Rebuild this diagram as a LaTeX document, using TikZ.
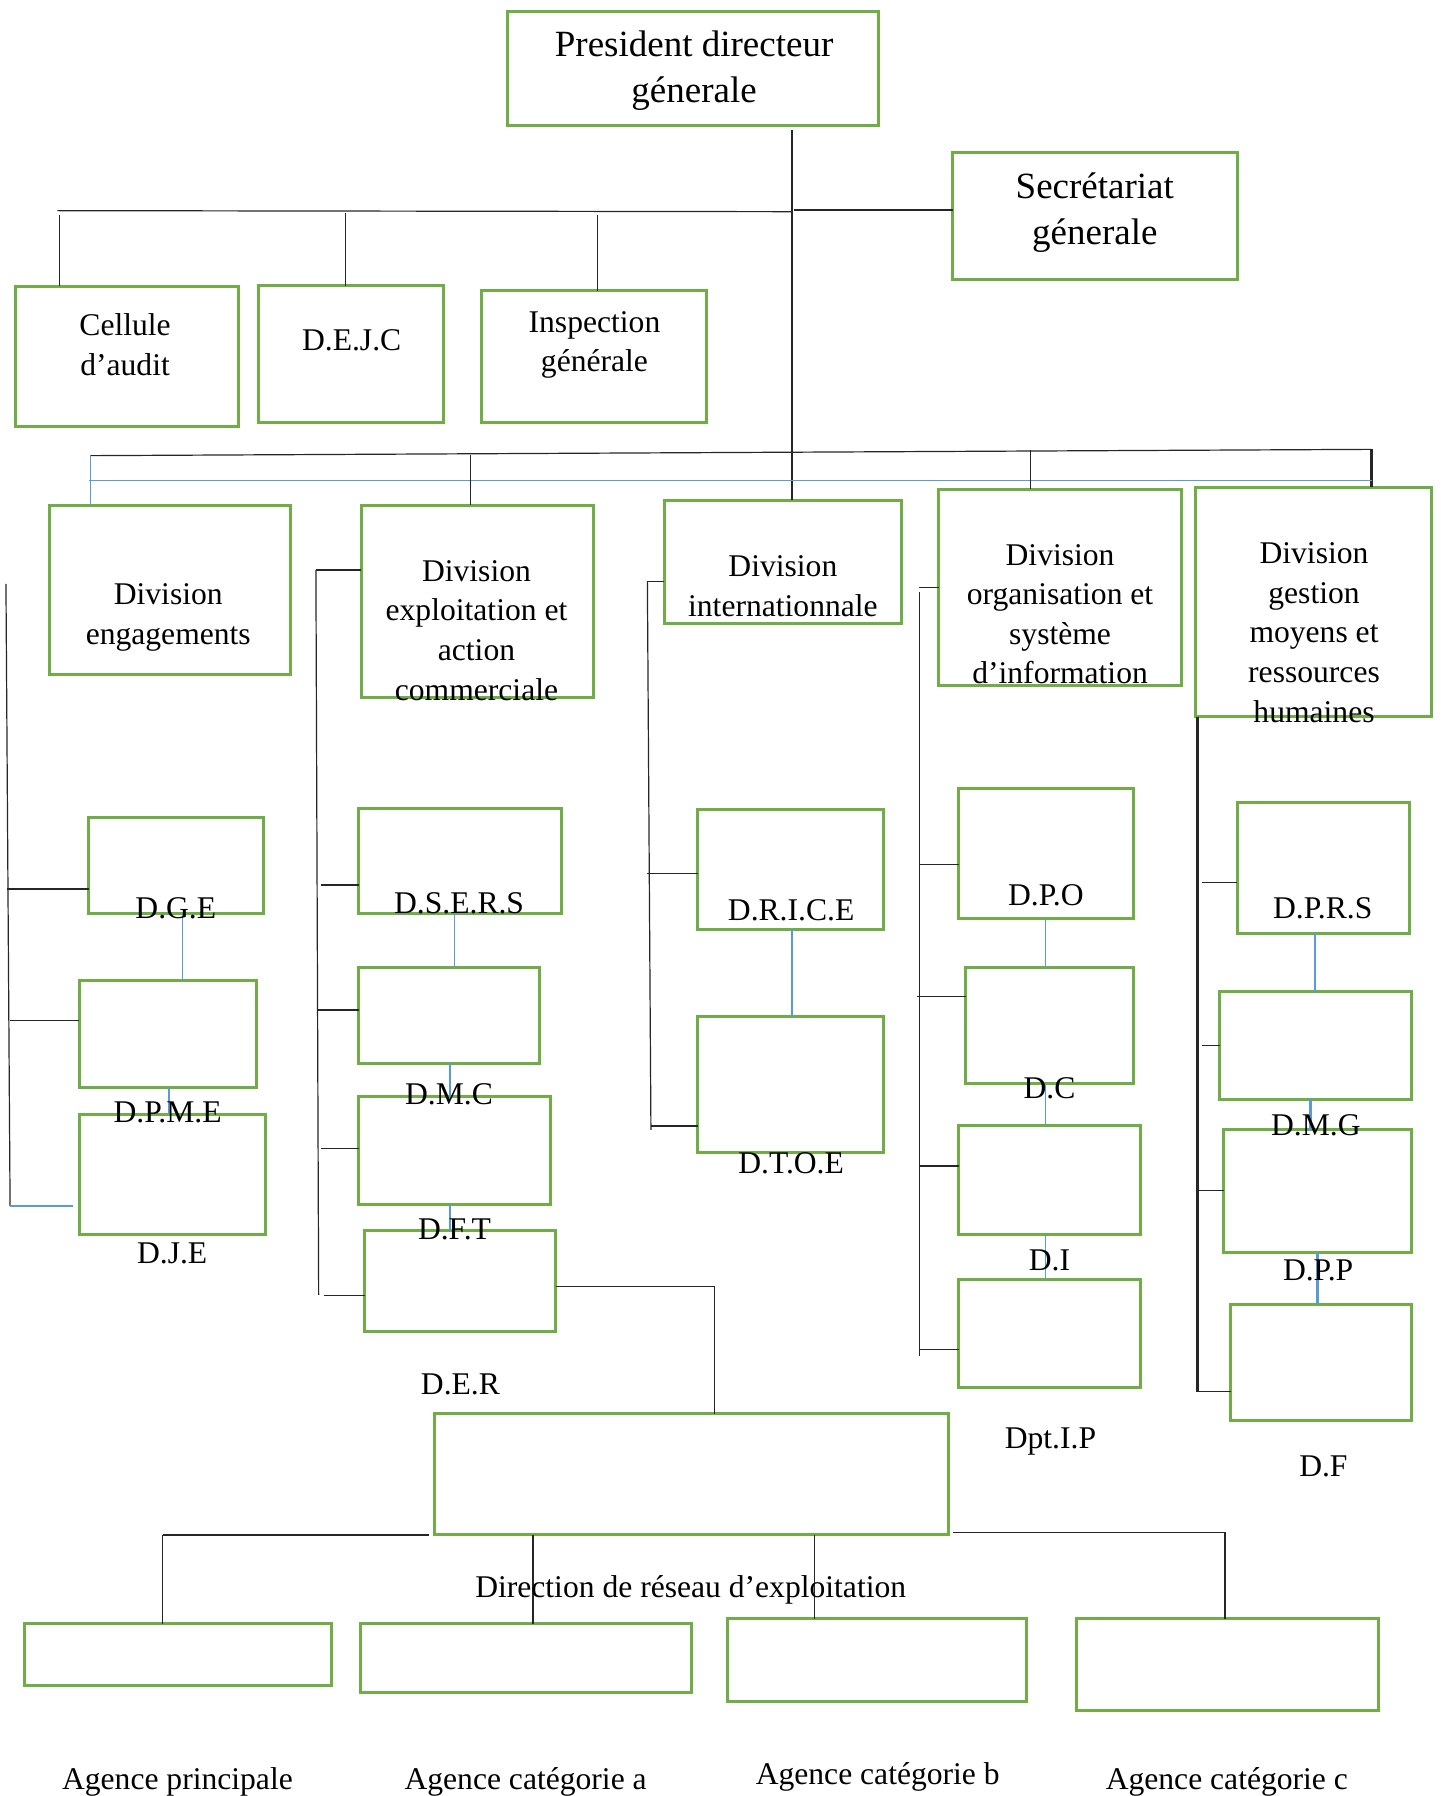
\documentclass[tikz,border=0pt]{standalone}
\usepackage{fontspec}
\setmainfont{Liberation Serif}
\definecolor{bxgreen}{RGB}{112,173,71}
\definecolor{lnblue}{RGB}{91,155,213}
\tikzset{
 gbox/.style={draw=bxgreen, line width=1.5pt, inner sep=0pt, outer sep=0pt, rectangle},
 conn/.style={draw=black!85, line width=0.6pt},
 bconn/.style={draw=lnblue, line width=0.6pt},
 bthick/.style={draw=lnblue, line width=1.3pt},
 lbl/.style={font=\fontsize{15.8pt}{19.8pt}\selectfont, inner sep=0pt, align=center},
 ttl/.style={font=\fontsize{18.5pt}{22.9pt}\selectfont, inner sep=0pt, align=center, yshift=-2pt},
 low/.style={yshift=-1.8pt},
}
\newcommand\mkbox[5]{\node[gbox, minimum width={(#4-#2)*0.5727pt}, minimum height={(#5-#3)*0.5727pt}] (#1) at ({(#2+#4)/2},{(#3+#5)/2}) {};}
\begin{document}
\begin{tikzpicture}[x=0.5727pt,y=-0.5727pt]
\useasboundingbox (0,0) rectangle (1258,1568);
% boxes
\mkbox{pdg}{443.5}{10.2}{767.2}{109.7}
\mkbox{sec}{831.8}{133}{1080.7}{243.8}
\mkbox{audit}{13.2}{249.7}{208}{372.2}
\mkbox{dejc}{225.7}{249.4}{387.2}{368.7}
\mkbox{insp}{420}{253.7}{617.2}{368.7}
\mkbox{deng}{42.9}{440.9}{253.3}{589.3}
\mkbox{dexp}{315.4}{440.9}{518.3}{608.8}
\mkbox{dint}{580}{436.8}{786.9}{544.2}
\mkbox{dorg}{819.7}{427.2}{1031.8}{598.9}
\mkbox{dges}{1043.8}{425.4}{1249.8}{625.6}
\mkbox{dge}{77.4}{713.8}{229.7}{797.3}
\mkbox{dpme}{69.3}{856.1}{223.7}{949.5}
\mkbox{dje}{69.3}{972.8}{231.7}{1078.1}
\mkbox{dsers}{313.4}{706}{490.2}{797.3}
\mkbox{dmc}{313.4}{844.8}{470.9}{928.3}
\mkbox{dft}{313.4}{957.4}{481}{1051.4}
\mkbox{der}{318.6}{1074.6}{485}{1162.5}
\mkbox{drice}{609.2}{706.3}{771.6}{811.3}
\mkbox{dtoe}{609.2}{887.5}{771.6}{1006}
\mkbox{dpo}{837}{688.8}{989.7}{801.7}
\mkbox{dc}{843}{844.8}{989.7}{946.3}
\mkbox{di}{837}{983}{995.3}{1078.1}
\mkbox{dptip}{837}{1117.4}{995.3}{1211.1}
\mkbox{dprs}{1080.3}{700.4}{1230.6}{814.8}
\mkbox{dmg}{1064.7}{865.7}{1232.6}{959.7}
\mkbox{dpp}{1068.3}{986.5}{1232.6}{1093.6}
\mkbox{df}{1074.6}{1138.6}{1232.6}{1240.2}
\mkbox{dir}{379.5}{1234.4}{828}{1339.7}
\mkbox{ap}{21.7}{1417.4}{289.7}{1471.8}
\mkbox{aa}{314.5}{1417.7}{603.4}{1478}
\mkbox{ab}{635.5}{1413.4}{896.3}{1485.8}
\mkbox{ac}{939.6}{1413.4}{1203.5}{1493.7}
% top connectors
\coordinate (t0) at (691.4,113.5);
\draw[conn] (t0) -- (t0 |- dint.north);
\coordinate (b1) at (50.1,183.9);
\coordinate (b1r) at (691.4,184.8);
\draw[conn] (b1) -- (b1r);
\coordinate (s1) at (693,183.3);
\draw[conn] (s1) -- (s1 -| sec.west);
\coordinate (k1) at (52.1,187.7);
\draw[conn] (k1) -- (k1 |- audit.north);
\coordinate (k2) at (301.4,185.6);
\draw[conn] (k2) -- (k2 |- dejc.north);
\coordinate (k3) at (521.4,187.7);
\draw[conn] (k3) -- (k3 |- insp.north);
% division bus
\coordinate (v0) at (79,397.8);
\coordinate (v1) at (1197.7,392.3);
\draw[conn] (v0) -- (v1);
\draw[conn, line width=1.4pt] (v1) -- (v1 |- dges.north);
\coordinate (w0) at (78,419.6);
\draw[bconn] (w0) -- (w0 -| v1);
\draw[bconn] (v0) -- (v0 |- deng.north);
\coordinate (v3) at (410.8,397);
\draw[conn] (v3) -- (v3 |- dexp.north);
\coordinate (v4) at (899.9,393);
\draw[conn] (v4) -- (v4 |- dorg.north);
% column 1
\coordinate (c1a) at (5.2,509.8);
\coordinate (c1b) at (8.8,1052.8);
\coordinate (c1c) at (63.3,1052.8);
\draw[conn] (c1a) -- (c1b);
\draw[bconn] (c1b) -- (c1c);
\coordinate (h1) at (6,776.1);
\draw[conn] (h1) -- (h1 -| dge.west);
\coordinate (h2) at (8.8,891);
\draw[conn] (h2) -- (h2 -| dpme.west);
\coordinate (x1) at (159.1,0);
\draw[bconn] (dge.south -| x1) -- (dpme.north -| x1);
\coordinate (x2) at (147.5,0);
\draw[bconn] (dpme.south -| x2) -- (dje.north -| x2);
% column 2
\coordinate (c2a) at (275.8,497.6);
\coordinate (c2b) at (278.2,1130.5);
\draw[conn] (c2a) -- (c2b);
\draw[conn] (c2a) -- (c2a -| dexp.west);
\coordinate (h3) at (280.6,772.6);
\draw[conn] (h3) -- (h3 -| dsers.west);
\coordinate (h4) at (277.4,881.7);
\draw[conn] (h4) -- (h4 -| dmc.west);
\coordinate (h5) at (280.6,1002.5);
\draw[conn] (h5) -- (h5 -| dft.west);
\coordinate (h6) at (282.6,1131.1);
\draw[conn] (h6) -- (h6 -| der.west);
\coordinate (x3) at (396.8,0);
\draw[bconn] (dsers.south -| x3) -- (dmc.north -| x3);
\coordinate (x4) at (392.8,0);
\draw[bconn] (dmc.south -| x4) -- (dft.north -| x4);
\draw[bconn] (dft.south -| x4) -- (der.north -| x4);
\coordinate (r1) at (624.1,1123.2);
\draw[conn] (r1 -| der.east) -- (r1) -- (r1 |- dir.north);
% column 3
\coordinate (c3a) at (565.2,507.8);
\coordinate (c3b) at (568.3,986.5);
\draw[conn] (c3a) -- (c3b);
\draw[conn] (c3a) -- (c3a -| dint.west);
\coordinate (h7) at (565.2,762.4);
\draw[conn] (h7) -- (h7 -| drice.west);
\coordinate (h8) at (568.3,983);
\draw[conn] (h8) -- (h8 -| dtoe.west);
\coordinate (x5) at (691.5,0);
\draw[bconn] (drice.south -| x5) -- (dtoe.north -| x5);
% column 4
\coordinate (c4a) at (802.5,516.5);
\coordinate (c4b) at (802.5,1183.5);
\draw[conn] (c4a) -- (c4b);
\coordinate (c4s) at (802.5,512.7);
\draw[conn] (c4s) -- (c4s -| dorg.west);
\coordinate (h9) at (802.5,754.5);
\draw[conn] (h9) -- (h9 -| dpo.west);
\coordinate (h10) at (800.9,870.1);
\draw[conn] (h10) -- (h10 -| dc.west);
\coordinate (h11) at (802.5,1017.9);
\draw[conn] (h11) -- (h11 -| di.west);
\coordinate (h12) at (802.5,1177.9);
\draw[conn] (h12) -- (h12 -| dptip.west);
\coordinate (x6) at (913.1,0);
\draw[bconn] (dpo.south -| x6) -- (dc.north -| x6);
\draw[bconn] (dc.south -| x6) -- (di.north -| x6);
\draw[bconn] (di.south -| x6) -- (dptip.north -| x6);
% column 5
\coordinate (c5b) at (1045.4,1214.9);
\draw[conn, line width=1.6pt] (dges.south -| c5b) -- (c5b);
\draw[conn] (c5b) -- (c5b -| df.west);
\coordinate (h13) at (1049.3,770.5);
\draw[conn] (h13) -- (h13 -| dprs.west);
\coordinate (h14) at (1049.3,912.8);
\draw[conn] (h14) -- (h14 -| dmg.west);
\coordinate (h15) at (1045.4,1039.4);
\draw[conn] (h15) -- (h15 -| dpp.west);
\coordinate (x7) at (1148,0);
\draw[bthick] (dprs.south -| x7) -- (dmg.north -| x7);
\coordinate (x8) at (1144,0);
\draw[bthick] (dmg.south -| x8) -- (dpp.north -| x8);
\coordinate (x9) at (1150,0);
\draw[bthick] (dpp.south -| x9) -- (df.north -| x9);
% bottom
\coordinate (q1) at (374.7,1340);
\coordinate (q2) at (142,1340);
\draw[conn, line width=1.1pt] (q1) -- (q2);
\draw[conn] (q2) -- (q2 |- ap.north);
\coordinate (q3) at (832,1337.7);
\coordinate (q4) at (1069.5,1337.7);
\draw[conn] (q3) -- (q4) -- (q4 |- ac.north);
\coordinate (x10) at (465.3,0);
\draw[conn] (dir.south -| x10) -- (aa.north -| x10);
\coordinate (x11) at (710.9,0);
\draw[conn] (dir.south -| x11) -- (ab.north -| x11);
% texts
\node[ttl] (tpdg) at (606,58) {President directeur\\génerale};
\node[ttl] (tsec) at (955.8,182) {Secrétariat\\génerale};
\node[lbl] (taudit) at (109.2,301) {Cellule\\d’audit};
\node[lbl] (tdejc) at (307,297.4) {D.E.J.C};
\node[lbl] (tinsp) at (519,301) {Inspection\\générale};
\node[lbl,low] (tdeng) at (146.9,535.7) {Division\\engagements};
\node[lbl] (tdexp) at (416,550.3) {Division\\exploitation et\\action\\commerciale};
\node[lbl] (tdint) at (683.5,511.9) {Division\\internationnale};
\node[lbl] (tdorg) at (925.5,536.2) {Division\\organisation et\\système\\d’information};
\node[lbl] (tdges) at (1147.2,552.2) {Division\\gestion\\moyens et\\ressources\\humaines};
\node[lbl] (tdge) at (153.5,793) {D.G.E};
\node[lbl] (tdpme) at (146.3,971.3) {D.P.M.E};
\node[lbl] (tdje) at (150.3,1094.1) {D.J.E};
\node[lbl] (tdsers) at (400.8,788.6) {D.S.E.R.S};
\node[lbl] (tdmc) at (392,955) {D.M.C};
\node[lbl] (tdft) at (396.8,1072.9) {D.F.T};
\node[lbl] (tder) at (402,1209) {D.E.R};
\node[lbl] (tdrice) at (690.7,794.4) {D.R.I.C.E};
\node[lbl] (tdtoe) at (690.7,1015.6) {D.T.O.E};
\node[lbl] (tdpo) at (913.1,781.3) {D.P.O};
\node[lbl] (tdc) at (916.3,950.1) {D.C};
\node[lbl] (tdi) at (916.3,1100) {D.I};
\node[lbl,low] (tdptip) at (917.1,1255.6) {Dpt.I.P};
\node[lbl] (tdprs) at (1154.8,793) {D.P.R.S};
\node[lbl] (tdmg) at (1148.8,982.1) {D.M.G};
\node[lbl] (tdpp) at (1150.8,1109.3) {D.P.P};
\node[lbl] (tdf) at (1155.4,1280.4) {D.F};
\node[lbl,low] (tdir) at (603,1385.1) {Direction de réseau d’exploitation};
\node[lbl,low] (tap) at (154.9,1552.4) {Agence principale};
\node[lbl,low] (taa) at (458.9,1552.4) {Agence catégorie a};
\node[lbl,low] (tab) at (766.3,1548.1) {Agence catégorie b};
\node[lbl,low] (tac) at (1071.1,1552.4) {Agence catégorie c};
\end{tikzpicture}
\end{document}
